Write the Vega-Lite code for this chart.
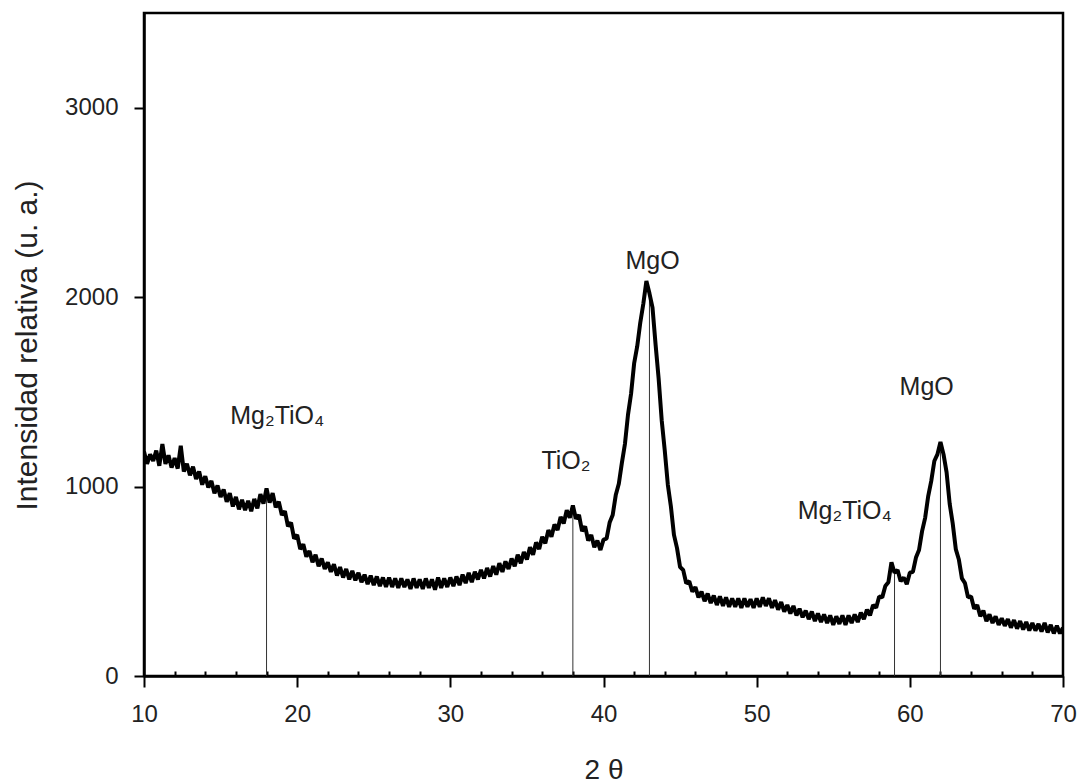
{
  "$schema": "https://vega.github.io/schema/vega-lite/v6.json",
  "width": 919,
  "height": 663,
  "autosize": {"type": "none"},
  "padding": {"left": 144, "top": 13, "right": 16, "bottom": 108},
  "background": "white",
  "config": {
    "view": {"stroke": "black", "strokeWidth": 2.5},
    "font": "Liberation Sans"
  },
  "datasets": {
    "xrd": [
      {"t":10.0,"i":1185},{"t":10.2,"i":1120},{"t":10.4,"i":1170},{"t":10.6,"i":1135},{"t":10.8,"i":1190},
      {"t":11.0,"i":1110},{"t":11.2,"i":1225},{"t":11.4,"i":1120},{"t":11.6,"i":1165},{"t":11.8,"i":1100},
      {"t":12.0,"i":1150},{"t":12.2,"i":1095},{"t":12.4,"i":1215},{"t":12.6,"i":1080},{"t":12.8,"i":1120},
      {"t":13.0,"i":1060},{"t":13.2,"i":1105},{"t":13.4,"i":1040},{"t":13.6,"i":1080},{"t":13.8,"i":1010},
      {"t":14.0,"i":1055},{"t":14.2,"i":995},{"t":14.4,"i":1030},{"t":14.6,"i":965},{"t":14.8,"i":1005},
      {"t":15.0,"i":945},{"t":15.2,"i":985},{"t":15.4,"i":920},{"t":15.6,"i":965},{"t":15.8,"i":895},
      {"t":16.0,"i":945},{"t":16.2,"i":880},{"t":16.4,"i":930},{"t":16.6,"i":875},{"t":16.8,"i":925},
      {"t":17.0,"i":870},{"t":17.2,"i":935},{"t":17.4,"i":885},{"t":17.6,"i":960},{"t":17.8,"i":910},
      {"t":18.0,"i":990},{"t":18.2,"i":915},{"t":18.4,"i":965},{"t":18.6,"i":890},{"t":18.8,"i":920},
      {"t":19.0,"i":850},{"t":19.2,"i":870},{"t":19.4,"i":790},{"t":19.6,"i":810},{"t":19.8,"i":725},
      {"t":20.0,"i":745},{"t":20.2,"i":670},{"t":20.4,"i":695},{"t":20.6,"i":630},{"t":20.8,"i":660},
      {"t":21.0,"i":600},{"t":21.2,"i":640},{"t":21.4,"i":580},{"t":21.6,"i":620},{"t":21.8,"i":565},
      {"t":22.0,"i":600},{"t":22.2,"i":550},{"t":22.4,"i":590},{"t":22.6,"i":530},{"t":22.8,"i":575},
      {"t":23.0,"i":520},{"t":23.2,"i":565},{"t":23.4,"i":510},{"t":23.6,"i":555},{"t":23.8,"i":505},
      {"t":24.0,"i":545},{"t":24.2,"i":495},{"t":24.4,"i":535},{"t":24.6,"i":485},{"t":24.8,"i":530},
      {"t":25.0,"i":480},{"t":25.2,"i":525},{"t":25.4,"i":475},{"t":25.6,"i":520},{"t":25.8,"i":470},
      {"t":26.0,"i":520},{"t":26.2,"i":470},{"t":26.4,"i":515},{"t":26.6,"i":465},{"t":26.8,"i":515},
      {"t":27.0,"i":470},{"t":27.2,"i":510},{"t":27.4,"i":460},{"t":27.6,"i":515},{"t":27.8,"i":465},
      {"t":28.0,"i":510},{"t":28.2,"i":460},{"t":28.4,"i":515},{"t":28.6,"i":465},{"t":28.8,"i":510},
      {"t":29.0,"i":455},{"t":29.2,"i":520},{"t":29.4,"i":465},{"t":29.6,"i":515},{"t":29.8,"i":470},
      {"t":30.0,"i":520},{"t":30.2,"i":475},{"t":30.4,"i":525},{"t":30.6,"i":480},{"t":30.8,"i":535},
      {"t":31.0,"i":490},{"t":31.2,"i":545},{"t":31.4,"i":495},{"t":31.6,"i":550},{"t":31.8,"i":510},
      {"t":32.0,"i":560},{"t":32.2,"i":515},{"t":32.4,"i":570},{"t":32.6,"i":525},{"t":32.8,"i":580},
      {"t":33.0,"i":535},{"t":33.2,"i":595},{"t":33.4,"i":550},{"t":33.6,"i":605},{"t":33.8,"i":565},
      {"t":34.0,"i":620},{"t":34.2,"i":580},{"t":34.4,"i":640},{"t":34.6,"i":595},{"t":34.8,"i":655},
      {"t":35.0,"i":615},{"t":35.2,"i":680},{"t":35.4,"i":640},{"t":35.6,"i":705},{"t":35.8,"i":670},
      {"t":36.0,"i":735},{"t":36.2,"i":700},{"t":36.4,"i":770},{"t":36.6,"i":735},{"t":36.8,"i":800},
      {"t":37.0,"i":770},{"t":37.2,"i":840},{"t":37.4,"i":805},{"t":37.6,"i":875},{"t":37.8,"i":835},
      {"t":38.0,"i":900},{"t":38.2,"i":830},{"t":38.4,"i":850},{"t":38.6,"i":765},{"t":38.8,"i":790},
      {"t":39.0,"i":715},{"t":39.2,"i":745},{"t":39.4,"i":680},{"t":39.6,"i":715},{"t":39.8,"i":665},
      {"t":40.0,"i":720},{"t":40.2,"i":725},{"t":40.4,"i":810},{"t":40.6,"i":850},{"t":40.8,"i":955},
      {"t":41.0,"i":1015},{"t":41.2,"i":1125},{"t":41.4,"i":1225},{"t":41.6,"i":1380},{"t":41.8,"i":1490},
      {"t":42.0,"i":1650},{"t":42.2,"i":1740},{"t":42.4,"i":1865},{"t":42.6,"i":1965},{"t":42.8,"i":2085},
      {"t":43.0,"i":2020},{"t":43.2,"i":1945},{"t":43.4,"i":1750},{"t":43.6,"i":1570},{"t":43.8,"i":1350},
      {"t":44.0,"i":1190},{"t":44.2,"i":1010},{"t":44.4,"i":895},{"t":44.6,"i":745},{"t":44.8,"i":675},
      {"t":45.0,"i":575},{"t":45.2,"i":560},{"t":45.4,"i":490},{"t":45.6,"i":500},{"t":45.8,"i":445},
      {"t":46.0,"i":470},{"t":46.2,"i":415},{"t":46.4,"i":445},{"t":46.6,"i":395},{"t":46.8,"i":435},
      {"t":47.0,"i":385},{"t":47.2,"i":425},{"t":47.4,"i":375},{"t":47.6,"i":420},{"t":47.8,"i":370},
      {"t":48.0,"i":415},{"t":48.2,"i":365},{"t":48.4,"i":410},{"t":48.6,"i":365},{"t":48.8,"i":410},
      {"t":49.0,"i":360},{"t":49.2,"i":410},{"t":49.4,"i":365},{"t":49.6,"i":405},{"t":49.8,"i":360},
      {"t":50.0,"i":410},{"t":50.2,"i":365},{"t":50.4,"i":415},{"t":50.6,"i":370},{"t":50.8,"i":410},
      {"t":51.0,"i":360},{"t":51.2,"i":400},{"t":51.4,"i":350},{"t":51.6,"i":390},{"t":51.8,"i":340},
      {"t":52.0,"i":375},{"t":52.2,"i":330},{"t":52.4,"i":370},{"t":52.6,"i":320},{"t":52.8,"i":355},
      {"t":53.0,"i":310},{"t":53.2,"i":345},{"t":53.4,"i":300},{"t":53.6,"i":340},{"t":53.8,"i":290},
      {"t":54.0,"i":330},{"t":54.2,"i":285},{"t":54.4,"i":325},{"t":54.6,"i":280},{"t":54.8,"i":320},
      {"t":55.0,"i":270},{"t":55.2,"i":315},{"t":55.4,"i":275},{"t":55.6,"i":320},{"t":55.8,"i":270},
      {"t":56.0,"i":320},{"t":56.2,"i":280},{"t":56.4,"i":325},{"t":56.6,"i":285},{"t":56.8,"i":335},
      {"t":57.0,"i":300},{"t":57.2,"i":350},{"t":57.4,"i":320},{"t":57.6,"i":375},{"t":57.8,"i":360},
      {"t":58.0,"i":420},{"t":58.2,"i":415},{"t":58.4,"i":475},{"t":58.6,"i":495},{"t":58.8,"i":600},
      {"t":59.0,"i":545},{"t":59.2,"i":560},{"t":59.4,"i":500},{"t":59.6,"i":520},{"t":59.8,"i":485},
      {"t":60.0,"i":545},{"t":60.2,"i":550},{"t":60.4,"i":625},{"t":60.6,"i":665},{"t":60.8,"i":765},
      {"t":61.0,"i":835},{"t":61.2,"i":950},{"t":61.4,"i":1030},{"t":61.6,"i":1135},{"t":61.8,"i":1170},
      {"t":62.0,"i":1235},{"t":62.2,"i":1170},{"t":62.4,"i":1075},{"t":62.6,"i":910},{"t":62.8,"i":805},
      {"t":63.0,"i":670},{"t":63.2,"i":615},{"t":63.4,"i":515},{"t":63.6,"i":490},{"t":63.8,"i":415},
      {"t":64.0,"i":420},{"t":64.2,"i":355},{"t":64.4,"i":375},{"t":64.6,"i":315},{"t":64.8,"i":345},
      {"t":65.0,"i":290},{"t":65.2,"i":325},{"t":65.4,"i":280},{"t":65.6,"i":315},{"t":65.8,"i":270},
      {"t":66.0,"i":305},{"t":66.2,"i":265},{"t":66.4,"i":300},{"t":66.6,"i":255},{"t":66.8,"i":295},
      {"t":67.0,"i":250},{"t":67.2,"i":290},{"t":67.4,"i":245},{"t":67.6,"i":285},{"t":67.8,"i":240},
      {"t":68.0,"i":280},{"t":68.2,"i":240},{"t":68.4,"i":275},{"t":68.6,"i":235},{"t":68.8,"i":280},
      {"t":69.0,"i":230},{"t":69.2,"i":270},{"t":69.4,"i":225},{"t":69.6,"i":265},{"t":69.8,"i":225},
      {"t":70.0,"i":255}
    ],
    "peaks": [
      {"t": 18, "i": 950},
      {"t": 38, "i": 865},
      {"t": 43, "i": 2040},
      {"t": 59, "i": 570},
      {"t": 62, "i": 1220}
    ],
    "notes": [
      {"t": 18.7, "i": 1329, "label": "Mg₂TiO₄"},
      {"t": 37.55, "i": 1091, "label": "TiO₂"},
      {"t": 43.2, "i": 2151, "label": "MgO"},
      {"t": 55.75, "i": 828, "label": "Mg₂TiO₄"},
      {"t": 61.1, "i": 1481, "label": "MgO"}
    ]
  },
  "layer": [
    {
      "data": {"name": "peaks"},
      "mark": {"type": "rule", "color": "#333333", "strokeWidth": 1},
      "encoding": {
        "x": {"field": "t", "type": "quantitative"},
        "y": {"field": "i", "type": "quantitative"},
        "y2": {"datum": 0}
      }
    },
    {
      "data": {"name": "xrd"},
      "mark": {"type": "line", "color": "black", "strokeWidth": 4, "strokeJoin": "bevel", "clip": true},
      "encoding": {
        "x": {
          "field": "t", "type": "quantitative",
          "scale": {"domain": [10, 70], "nice": false, "zero": false},
          "axis": {
            "title": "2 θ",
            "titleFont": "Liberation Sans",
            "titleFontSize": 28,
            "titleFontWeight": "normal",
            "titleColor": "#222222",
            "titleX": 459.5,
            "titleY": 102,
            "titleAlign": "center",
            "titleBaseline": "alphabetic",
            "values": [10,12,14,16,18,20,22,24,26,28,30,32,34,36,38,40,42,44,46,48,50,52,54,56,58,60,62,64,66,68,70],
            "tickCount": 100,
            "format": "d",
            "labelExpr": "datum.value % 10 === 0 ? datum.label : ''",
            "labelFont": "Liberation Sans",
            "labelFontSize": 24,
            "labelColor": "#222222",
            "labelBaseline": "alphabetic",
            "labelPadding": 34,
            "labelFlush": false,
            "labelOverlap": false,
            "tickSize": {"condition": {"test": "datum.value % 10 === 0", "value": 11}, "value": -5},
            "tickColor": "black",
            "tickWidth": 2,
            "domainColor": "black",
            "domainWidth": 2.5,
            "grid": false
          }
        },
        "y": {
          "field": "i", "type": "quantitative",
          "scale": {"domain": [0, 3500], "nice": false},
          "axis": {
            "title": "Intensidad relativa (u. a.)",
            "titleFont": "Liberation Sans",
            "titleFontSize": 30,
            "titleFontWeight": "normal",
            "titleColor": "#222222",
            "titleAngle": 270,
            "titleX": -117,
            "titleY": 332,
            "titleAlign": "center",
            "titleBaseline": "middle",
            "values": [0, 1000, 2000, 3000],
            "format": "d",
            "labelFont": "Liberation Sans",
            "labelFontSize": 24,
            "labelColor": "#222222",
            "labelPadding": 16,
            "labelFlush": false,
            "tickSize": 10,
            "tickColor": "black",
            "tickWidth": 2,
            "domainColor": "black",
            "domainWidth": 2.5,
            "grid": false
          }
        }
      }
    },
    {
      "data": {"name": "notes"},
      "mark": {"type": "text", "font": "Liberation Sans", "fontSize": 25, "color": "#222222", "align": "center", "baseline": "alphabetic"},
      "encoding": {
        "x": {"field": "t", "type": "quantitative"},
        "y": {"field": "i", "type": "quantitative"},
        "text": {"field": "label"}
      }
    }
  ]
}
